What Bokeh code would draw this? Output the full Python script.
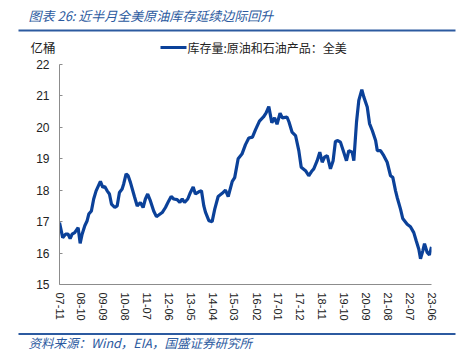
from datetime import datetime
import pandas as pd
from bokeh.plotting import figure
from bokeh.layouts import column, row
from bokeh.models import Range1d, FixedTicker, DatetimeTickFormatter
from bokeh.core.properties import value
from bokeh.embed import file_html
from bokeh.resources import INLINE

# ---- data ----
dates = ["2007-11-01","2007-12-20","2008-02-01","2008-03-12","2008-04-12","2008-05-12","2008-06-21",
         "2008-08-12","2008-09-12","2008-10-12","2008-11-22","2008-12-28","2009-01-22","2009-03-03",
         "2009-04-07","2009-05-14","2009-07-19","2009-08-24","2009-09-23","2009-10-30","2009-12-04",
         "2010-01-04","2010-02-24","2010-04-01","2010-05-06","2010-06-16","2010-07-10","2010-08-16",
         "2010-09-16","2010-10-21","2010-12-21","2011-02-02","2011-03-22","2011-05-03","2011-06-07",
         "2011-07-12","2011-08-23","2011-10-12","2011-11-23","2011-12-28","2012-02-19","2012-04-09",
         "2012-05-29","2012-07-05","2012-08-14","2012-10-05","2012-11-15","2012-12-21","2013-01-26",
         "2013-03-16","2013-04-26","2013-06-07","2013-07-11","2013-09-01","2013-10-12","2013-11-17",
         "2013-12-12","2014-02-02","2014-03-24","2014-05-03","2014-06-24","2014-08-25","2014-10-14",
         "2014-11-25","2015-01-26","2015-03-04","2015-04-26","2015-06-23","2015-08-16","2015-10-06",
         "2015-12-01","2016-01-17","2016-03-17","2016-05-17","2016-06-25","2016-08-07","2016-09-22",
         "2016-11-03","2016-12-11","2017-01-26","2017-03-04","2017-05-12","2017-06-12","2017-07-28",
         "2017-09-20","2017-11-09","2017-12-16","2018-02-20","2018-04-10","2018-06-01","2018-06-26",
         "2018-08-17","2018-09-26","2018-11-02","2018-12-07","2019-01-18","2019-03-08","2019-04-18",
         "2019-05-23","2019-06-28","2019-08-08","2019-09-19","2019-11-08","2019-12-14","2020-02-04",
         "2020-02-29","2020-04-10","2020-05-15","2020-06-30","2020-07-30","2020-09-21","2020-10-26",
         "2020-12-07","2021-01-27","2021-02-22","2021-04-12","2021-06-01","2021-07-23","2021-09-12",
         "2021-10-17","2021-11-28","2021-12-23","2022-02-12","2022-03-18","2022-05-25","2022-07-14",
         "2022-09-03","2022-10-10","2022-11-19","2022-12-15","2023-01-19","2023-02-14","2023-03-27",
         "2023-05-01","2023-06-01"]
stocks = [16.97,16.49,16.60,16.60,16.46,16.60,16.65,
          16.81,16.31,16.60,16.87,17.03,17.24,17.34,
          17.72,17.98,18.28,18.09,18.12,17.98,17.88,
          17.56,17.45,17.50,17.93,18.04,18.20,18.52,
          18.46,18.25,17.80,17.50,17.61,17.45,17.72,
          17.88,17.66,17.34,17.16,17.21,17.29,17.45,
          17.66,17.80,17.72,17.70,17.61,17.72,17.61,
          17.72,17.93,18.10,17.88,17.95,17.98,17.50,
          17.30,17.03,17.00,17.40,17.80,17.90,18.00,
          17.80,18.28,18.40,19.00,19.15,19.45,19.66,
          19.69,19.93,20.20,20.33,20.45,20.66,20.15,
          20.30,20.10,20.45,20.30,20.33,20.17,19.85,
          19.74,19.26,18.73,18.62,18.46,18.62,18.68,
          18.94,19.21,18.89,19.05,19.10,18.68,18.94,
          19.55,19.58,19.53,19.26,18.94,19.26,19.21,
          18.94,20.17,20.86,21.20,20.97,20.65,20.12,
          19.90,19.58,19.26,19.26,19.10,18.89,18.46,
          18.41,17.98,17.77,17.40,17.10,16.92,16.84,
          16.65,16.39,16.12,15.82,16.07,16.30,16.02,
          15.94,16.20]
x_tick_labels = ["07-11","08-10","09-09","10-08","11-07","12-06","13-05","14-04","15-03",
                 "16-02","17-01","17-12","18-11","19-10","20-09","21-08","22-07","23-06"]
y_ticks = [15, 16, 17, 18, 19, 20, 21, 22]
series_name = "库存量:原油和石油产品：全美"
title_text = "图表 26:  近半月全美原油库存延续边际回升"
unit_text = "亿桶"
source_text = "资料来源：Wind，EIA，国盛证券研究所"

# ---- styling ----
W = 458
HEAD_H, MAIN_H, FOOT_H = 57, 269, 32
cjk = "Noto Sans CJK SC"
blue = "#2c5aa0"
line_color = "#0b4199"
axis_color = "#8c8c8c"
tick_font = "Liberation Sans"


def canvas(height):
    """A figure whose frame covers the whole canvas, in pixel coordinates (y down)."""
    f = figure(width=W, height=height, output_backend="svg", toolbar_location=None,
               x_range=Range1d(0, W), y_range=Range1d(height, 0),
               x_axis_location=None, y_axis_location=None,
               min_border=0, min_border_left=0, min_border_right=0,
               min_border_top=0, min_border_bottom=0)
    f.outline_line_color = None
    f.xgrid.visible = False
    f.ygrid.visible = False
    f.border_fill_color = "white"
    return f


# ---- header: title, rule, unit and legend ----
head = canvas(HEAD_H)
head.text(x=[28], y=[15], text=[title_text], text_font=value(cjk), text_font_size="13px",
          text_font_style="italic", text_color=blue, text_baseline="middle")
head.line(x=[18, 455], y=[30, 30], line_color=blue, line_width=2)
head.text(x=[30], y=[47], text=[unit_text], text_font=value(cjk), text_font_size="12.5px",
          text_color="#222222", text_baseline="middle")
head.line(x=[160, 186], y=[47, 47], line_color=line_color, line_width=3.2)
head.text(x=[187], y=[47], text=[series_name], text_font=value(cjk), text_font_size="12px",
          text_color="#222222", text_baseline="middle")

# ---- main chart ----
x = pd.to_datetime(dates)
tick_dates = [datetime(2000 + int(s[:2]), int(s[3:]), 1) for s in x_tick_labels]
tick_ms = [pd.Timestamp(d).value / 1e6 for d in tick_dates]

p = figure(width=W, height=MAIN_H, output_backend="svg", toolbar_location=None,
           x_axis_type="datetime",
           x_range=Range1d(tick_dates[0], tick_dates[-1]),
           y_range=Range1d(15, 22),
           min_border_left=59, min_border_right=W - 431, min_border_top=7,
           min_border_bottom=42)
p.outline_line_color = None
p.xgrid.visible = False
p.ygrid.visible = False
p.border_fill_color = "white"

p.line(x, stocks, line_color=line_color, line_width=3.2)

p.xaxis.ticker = FixedTicker(ticks=tick_ms)
fmt = "%y-%m"
p.xaxis.formatter = DatetimeTickFormatter(milliseconds=fmt, seconds=fmt, minsec=fmt, minutes=fmt,
                                          hourmin=fmt, hours=fmt, days=fmt, months=fmt, years=fmt)
p.xaxis.major_label_orientation = "vertical"
p.xaxis.major_tick_in = 0
p.xaxis.major_tick_out = 0
p.xaxis.minor_tick_line_color = None
p.xaxis.axis_line_color = axis_color
p.xaxis.major_label_text_font = tick_font
p.xaxis.major_label_text_font_size = "11px"
p.xaxis.major_label_text_color = "#222222"
p.xaxis.major_label_standoff = 8

p.yaxis.ticker = FixedTicker(ticks=y_ticks)
p.yaxis.major_tick_in = 3
p.yaxis.major_tick_out = 0
p.yaxis.major_tick_line_color = axis_color
p.yaxis.minor_tick_line_color = None
p.yaxis.axis_line_color = axis_color
p.yaxis.major_label_text_font = tick_font
p.yaxis.major_label_text_font_size = "12px"
p.yaxis.major_label_text_color = "#222222"
p.yaxis.major_label_standoff = 10

# ---- footer: rule and source ----
foot = canvas(FOOT_H)
foot.line(x=[18, 455], y=[7.5, 7.5], line_color=blue, line_width=2)
foot.text(x=[28], y=[16], text=[source_text], text_font=value(cjk), text_font_size="12.5px",
          text_font_style="italic", text_color=blue, text_baseline="middle")

# each figure wrapped separately so that the frames are not aligned across the column
layout = column(row(head), row(p), row(foot), spacing=0)
open("out.html", "w").write(file_html(layout, INLINE))
